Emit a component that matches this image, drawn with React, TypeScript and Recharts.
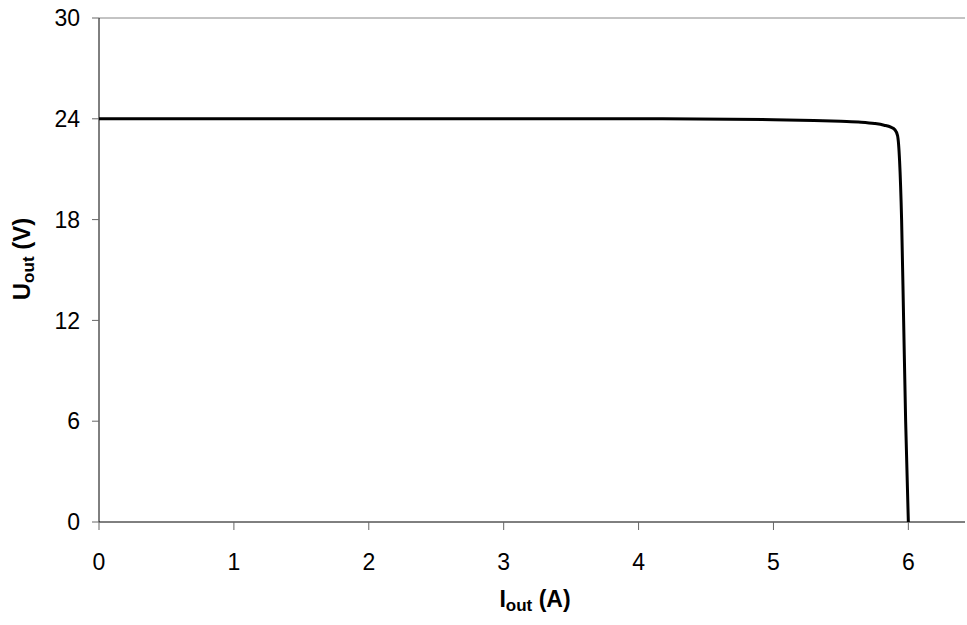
import { LineChart, Line, XAxis, YAxis, ReferenceLine } from "recharts";

const currentA = [0, 1, 2, 3, 4, 5, 5.3, 5.5, 5.65, 5.75, 5.82, 5.87, 5.9, 5.92, 5.935, 5.95, 5.965, 5.98, 6.0];
const voltageV = [24, 24, 24, 24, 24, 23.95, 23.9, 23.85, 23.8, 23.72, 23.62, 23.5, 23.35, 23.0, 21.5, 18, 12, 6, 0];
const xTicks = [0, 1, 2, 3, 4, 5, 6];
const yTicks = [0, 6, 12, 18, 24, 30];

const data = currentA.map((i, k) => ({ i, u: voltageV[k] }));

const font = "'Liberation Sans', Arial, sans-serif";

export default function App() {
  return (
    <div style={{ position: "absolute", left: 0, top: 0, background: "#fff" }}>
      <LineChart
        width={967}
        height={625}
        data={data}
        margin={{ top: 18, right: 2, bottom: 43, left: 0 }}
      >
        <XAxis
          dataKey="i"
          type="number"
          domain={[0, 6.42]}
          ticks={xTicks}
          height={60}
          stroke="#000"
          tickLine={{ stroke: "#666" }}
          tickSize={8}
          tick={{ fill: "#000", fontSize: 23, fontFamily: font }}
          tickMargin={24}
          label={() => (
            <text
              x={535}
              y={607}
              textAnchor="middle"
              fontFamily={font}
              fontWeight="bold"
              fontSize={23}
              fill="#000"
            >
              I
              <tspan fontSize={17} dy={4}>out</tspan>
              <tspan dy={-4}> (A)</tspan>
            </text>
          )}
        />
        <YAxis
          type="number"
          domain={[0, 30]}
          ticks={yTicks}
          width={99}
          stroke="#000"
          tickLine={{ stroke: "#666" }}
          tickSize={7}
          tick={{ fill: "#000", fontSize: 23, fontFamily: font }}
          tickMargin={12}
          label={() => (
            <text
              x={0}
              y={0}
              transform="translate(30,259) rotate(-90)"
              textAnchor="middle"
              fontFamily={font}
              fontWeight="bold"
              fontSize={24}
              fill="#000"
            >
              U
              <tspan fontSize={17} dy={4}>out</tspan>
              <tspan dy={-4}> (V)</tspan>
            </text>
          )}
        />
        <ReferenceLine y={30} stroke="#888" strokeWidth={1} />
        <Line
          dataKey="u"
          type="monotone"
          stroke="#000"
          strokeWidth={3}
          dot={false}
          isAnimationActive={false}
        />
      </LineChart>
    </div>
  );
}
